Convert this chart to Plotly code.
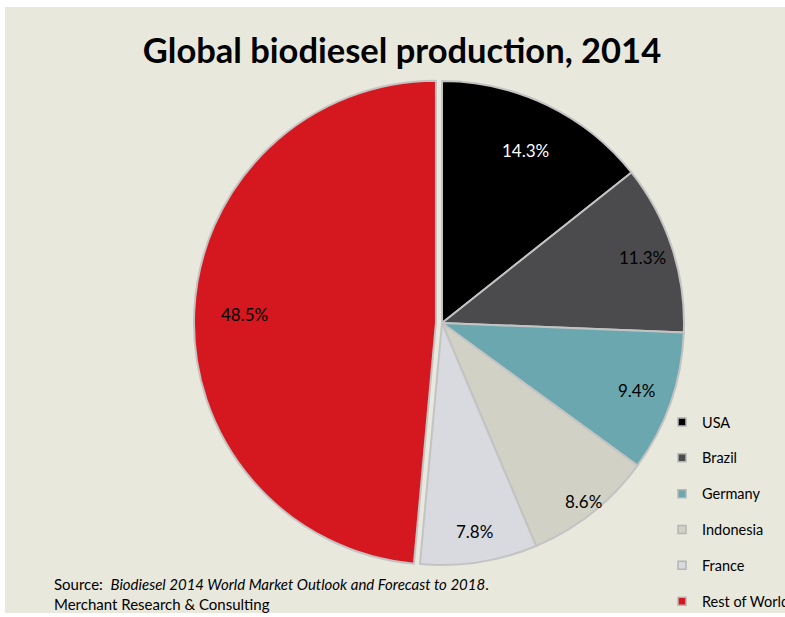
import math
import plotly.graph_objects as go

categories = ["USA", "Brazil", "Germany", "Indonesia", "France", "Rest of World"]
shares = [14.3, 11.3, 9.4, 8.6, 7.8, 48.5]
colors = ["#000000", "#4b4b4d", "#6aa7af", "#d1d2c5", "#d9dae0", "#d5181f"]
text_colors = ["#ffffff", "#000000", "#000000", "#000000", "#000000", "#000000"]
pulls = [0, 0, 0, 0, 0, 0.025]
# radial placement of each percentage label (fraction of radius), as in the original layout
label_radius = [0.79, 0.87, 0.85, 0.94, 0.87, 0.79]

W, H = 785, 617
FONT = "Lato"

def px(x):
    return x / W

def py(y):
    return 1 - y / H

# pie geometry (pixels)
cx, cy, r = 442, 323, 242
half = r * (1 + max(pulls))

fig = go.Figure()
fig.add_trace(go.Pie(
    labels=categories,
    values=shares,
    sort=False,
    direction="clockwise",
    rotation=0,
    pull=pulls,
    marker=dict(colors=colors, line=dict(color="#c3c3c3", width=2)),
    textinfo="none",
    hoverinfo="label+value",
    showlegend=False,
    domain=dict(x=[px(cx - half), px(cx + half)], y=[py(cy + half), py(cy - half)]),
))

for cat, col in zip(categories, colors):
    fig.add_trace(go.Scatter(
        x=[None], y=[None], mode="markers", name=cat, legendgroup=cat,
        marker=dict(symbol="square", size=8, color=col, line=dict(color="#b5b5b5", width=1.5)),
    ))

# percentage labels placed along each slice's mid-angle
annotations = []
total = sum(shares)
cum = 0.0
for v, k, tc, p in zip(shares, label_radius, text_colors, pulls):
    theta = math.radians((cum + v / 2) / total * 360)
    cum += v
    ox = cx + p * r * math.sin(theta)
    oy = cy - p * r * math.cos(theta)
    lx = ox + k * r * math.sin(theta)
    ly = oy - k * r * math.cos(theta)
    annotations.append(dict(
        xref="paper", yref="paper", x=px(lx), y=py(ly), xanchor="center", yanchor="middle",
        showarrow=False, text=f"{v:.1f}%", font=dict(family=FONT, size=17, color=tc)))

annotations.append(dict(
    xref="paper", yref="paper", x=px(52), y=py(573), xanchor="left", yanchor="top",
    align="left", showarrow=False,
    text="Source:  <i>Biodiesel 2014 World Market Outlook and Forecast to 2018</i>.<br>Merchant Research &amp; Consulting",
    font=dict(family=FONT, size=15, color="#000000")))

fig.update_layout(
    width=W, height=H,
    margin=dict(l=0, r=0, t=0, b=0, autoexpand=False),
    paper_bgcolor="#ffffff",
    plot_bgcolor="rgba(0,0,0,0)",
    xaxis=dict(visible=False), yaxis=dict(visible=False),
    font=dict(family=FONT, color="#000000"),
    title=dict(text="<b>Global biodiesel production, 2014</b>", x=px(402), xanchor="center",
               y=py(51), yanchor="middle", font=dict(family=FONT, size=34.5, color="#000000")),
    legend=dict(x=px(662), y=py(406), xanchor="left", yanchor="top",
                font=dict(family=FONT, size=14.5, color="#000000"),
                tracegroupgap=14, bgcolor="rgba(0,0,0,0)", itemclick=False),
    shapes=[dict(type="rect", xref="paper", yref="paper", x0=px(5), x1=1.01, y0=py(613), y1=py(7),
                 fillcolor="#e8e8dd", line=dict(width=0), layer="below")],
    annotations=annotations,
)

fig.write_html("out.html")
